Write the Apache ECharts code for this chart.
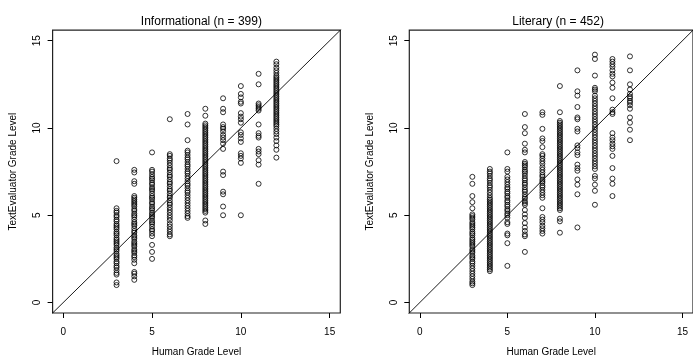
<!DOCTYPE html>
<html><head><meta charset="utf-8">
<script src="https://cdn.jsdelivr.net/npm/echarts@6/dist/echarts.min.js"></script>
<style>html,body{margin:0;padding:0;background:#fff}#c{width:693px;height:362px}</style>
</head><body><div id="c"></div>
<script>
// Human grade levels (x categories of the point columns)
const grades = [3, 4, 5, 6, 7, 8, 9, 10, 11, 12];
const tickValues = [0, 5, 10, 15];
const abline = [[-1, -1], [17, 17]];
const panelTitles = ['Informational (n = 399)', 'Literary (n = 452)'];
const xName = 'Human Grade Level';
const yName = 'TextEvaluator Grade Level';

// Informational: TextEvaluator grade level per human grade
const info3 = [8.1, 5.4, 5.25, 5.15, 5.0, 4.9, 4.75, 4.65, 4.5, 4.4, 4.3, 4.2, 4.05, 3.95, 3.85, 3.7, 3.6, 3.5, 3.4, 3.3, 3.15, 3.05, 2.95, 2.8, 2.7, 2.6, 2.5, 2.35, 2.25, 2.1, 2.0, 1.85, 1.7, 1.6, 1.15, 1.0];
const info4 = [7.6, 7.45, 6.95, 6.8, 6.1, 6.0, 5.9, 5.8, 5.7, 5.6, 5.5, 5.35, 5.25, 5.1, 5.0, 4.9, 4.75, 4.6, 4.5, 4.4, 4.25, 4.1, 4.0, 3.85, 3.75, 3.65, 3.5, 3.4, 3.3, 3.2, 3.05, 2.95, 2.85, 2.7, 2.6, 2.45, 2.25, 1.75, 1.65, 1.5, 1.3];
const info5 = [8.6, 7.6, 7.5, 7.35, 7.2, 7.1, 7.0, 6.85, 6.75, 6.6, 6.5, 6.4, 6.25, 6.1, 6.0, 5.9, 5.75, 5.65, 5.5, 5.4, 5.3, 5.15, 5.05, 4.95, 4.85, 4.7, 4.6, 4.5, 4.35, 4.2, 4.1, 3.95, 3.8, 3.3, 2.9, 2.5];
const info6 = [10.5, 8.5, 8.4, 8.25, 8.15, 8.0, 7.85, 7.7, 7.6, 7.45, 7.3, 7.2, 7.05, 6.9, 6.8, 6.65, 6.5, 6.4, 6.25, 6.1, 6.0, 5.85, 5.7, 5.6, 5.45, 5.3, 5.15, 5.0, 4.85, 4.7, 4.5, 4.35, 4.2, 4.05, 3.9, 3.8];
const info7 = [10.8, 10.2, 9.3, 8.7, 8.6, 8.45, 8.3, 8.2, 8.05, 7.9, 7.8, 7.65, 7.5, 7.4, 7.25, 7.1, 6.95, 6.8, 6.7, 6.55, 6.4, 6.3, 6.15, 6.0, 5.85, 5.7, 5.55, 5.4, 5.25, 5.1, 4.95, 4.85];
const info8 = [11.1, 10.7, 10.25, 10.15, 10.05, 9.95, 9.85, 9.75, 9.65, 9.55, 9.45, 9.35, 9.25, 9.15, 9.05, 8.95, 8.85, 8.75, 8.65, 8.55, 8.45, 8.35, 8.25, 8.15, 8.05, 7.95, 7.85, 7.75, 7.65, 7.55, 7.45, 7.35, 7.25, 7.15, 7.05, 6.95, 6.85, 6.75, 6.65, 6.55, 6.45, 6.35, 6.25, 6.15, 6.05, 5.95, 5.85, 5.75, 5.65, 5.55, 5.45, 5.35, 5.25, 5.15, 4.7, 4.5];
const info9 = [11.7, 11.1, 10.9, 10.2, 10.05, 9.95, 9.8, 9.6, 9.45, 9.3, 9.1, 8.8, 7.5, 7.3, 6.35, 6.2, 5.5, 5.0];
const info10 = [12.4, 11.95, 11.75, 11.5, 11.4, 10.85, 10.65, 10.5, 10.3, 9.75, 9.6, 9.4, 9.2, 8.55, 8.4, 8.25, 8.0, 5.0];
const info11 = [13.1, 12.5, 11.4, 11.3, 11.2, 11.1, 11.0, 10.2, 9.7, 9.55, 9.45, 8.8, 8.65, 8.5, 8.15, 7.9, 6.8];
const info12 = [13.8, 13.65, 13.45, 13.3, 13.15, 13.0, 12.9, 12.8, 12.7, 12.6, 12.5, 12.4, 12.3, 12.2, 12.1, 12.0, 11.9, 11.8, 11.7, 11.6, 11.5, 11.4, 11.3, 11.2, 11.1, 11.0, 10.9, 10.8, 10.7, 10.6, 10.5, 10.4, 10.3, 10.2, 10.1, 9.95, 9.8, 9.65, 9.45, 9.25, 9.0, 8.75, 8.3];

// Literary
const lit3 = [7.2, 6.8, 6.1, 5.75, 5.4, 5.05, 4.95, 4.85, 4.75, 4.6, 4.5, 4.4, 4.3, 4.2, 4.05, 3.95, 3.85, 3.7, 3.6, 3.5, 3.4, 3.3, 3.2, 3.05, 2.95, 2.85, 2.7, 2.6, 2.5, 2.35, 2.25, 2.1, 1.95, 1.8, 1.65, 1.5, 1.35, 1.2, 1.1, 1.0];
const lit4 = [7.65, 7.5, 7.4, 7.25, 7.1, 7.0, 6.85, 6.7, 6.6, 6.45, 6.3, 6.15, 6.0, 5.9, 5.8, 5.7, 5.6, 5.5, 5.4, 5.3, 5.2, 5.1, 5.0, 4.9, 4.8, 4.7, 4.6, 4.5, 4.4, 4.3, 4.2, 4.1, 4.0, 3.9, 3.8, 3.7, 3.6, 3.5, 3.4, 3.3, 3.2, 3.1, 3.0, 2.9, 2.8, 2.7, 2.6, 2.5, 2.4, 2.3, 2.2, 2.1, 2.0, 1.9, 1.8];
const lit5 = [8.6, 7.65, 7.5, 7.2, 7.05, 6.9, 6.75, 6.6, 6.5, 6.35, 6.25, 6.1, 6.0, 5.85, 5.75, 5.6, 5.5, 5.35, 5.25, 5.1, 5.0, 4.85, 4.6, 4.5, 3.95, 3.85, 3.4, 2.1];
const lit6 = [10.8, 10.05, 9.7, 9.1, 8.75, 8.6, 8.05, 7.95, 7.85, 7.75, 7.6, 7.5, 7.4, 7.25, 7.1, 7.0, 6.85, 6.75, 6.6, 6.45, 6.35, 6.2, 6.05, 5.95, 5.8, 5.7, 5.6, 5.3, 5.05, 4.85, 4.55, 4.3, 4.1, 3.9, 3.8, 2.9];
const lit7 = [10.9, 10.75, 9.95, 9.4, 9.25, 8.9, 8.5, 8.4, 8.25, 8.1, 7.95, 7.75, 7.6, 7.45, 7.3, 7.2, 7.05, 6.95, 6.85, 6.7, 6.6, 6.45, 6.3, 6.15, 6.0, 5.4, 4.9, 4.75, 4.6, 4.4, 4.25, 4.1, 3.95];
const lit8 = [12.4, 10.9, 10.4, 10.3, 10.2, 10.1, 10.0, 9.9, 9.8, 9.7, 9.6, 9.5, 9.4, 9.3, 9.2, 9.1, 9.0, 8.9, 8.8, 8.7, 8.6, 8.5, 8.4, 8.3, 8.2, 8.1, 8.0, 7.9, 7.8, 7.7, 7.6, 7.5, 7.4, 7.3, 7.2, 7.1, 7.0, 6.9, 6.8, 6.7, 6.6, 6.5, 6.4, 6.3, 6.2, 6.1, 6.0, 5.9, 5.8, 5.7, 5.6, 5.5, 5.4, 5.3, 4.8, 4.65, 4.0];
const lit9 = [13.3, 12.1, 11.85, 11.2, 10.6, 10.5, 9.95, 9.8, 9.0, 8.85, 8.6, 8.45, 7.9, 7.7, 7.55, 7.05, 6.75, 6.2, 4.3];
const lit10 = [14.2, 13.95, 13.0, 12.3, 12.2, 12.1, 11.85, 11.7, 11.55, 11.4, 11.25, 11.1, 10.95, 10.8, 10.65, 10.5, 10.35, 10.2, 10.05, 9.9, 9.75, 9.6, 9.45, 9.3, 9.15, 9.0, 8.85, 8.7, 8.55, 8.4, 8.25, 8.1, 7.95, 7.8, 7.65, 7.25, 7.1, 6.75, 6.4, 5.6];
const lit11 = [13.95, 13.8, 13.65, 13.5, 13.3, 13.1, 12.95, 12.6, 12.3, 11.7, 11.05, 10.9, 10.8, 9.7, 9.45, 9.3, 9.1, 8.95, 8.8, 8.4, 7.7, 7.1, 6.8, 6.1];
const lit12 = [14.1, 13.3, 12.5, 12.2, 11.95, 11.8, 11.7, 11.55, 11.45, 11.3, 11.1, 10.6, 10.3, 9.9, 9.3];

const infoCols = [info3, info4, info5, info6, info7, info8, info9, info10, info11, info12];
const litCols = [lit3, lit4, lit5, lit6, lit7, lit8, lit9, lit10, lit11, lit12];

function pairs(cols) {
  const out = [];
  cols.forEach((c, i) => c.forEach(v => out.push([grades[i], v])));
  return out;
}

const FONT = '"Liberation Sans", Arial, Helvetica, sans-serif';
const gridsPos = [
  { left: 52.6, top: 30.2, width: 287.7, height: 286.4 },
  { left: 409.3, top: 30.2, width: 287.7, height: 286.4 }
];

const chart = echarts.init(document.getElementById('c'), null, { renderer: 'canvas' });

const xAxes = [], yAxes = [], series = [], titles = [];
[infoCols, litCols].forEach((cols, k) => {
  xAxes.push({
    gridIndex: k, type: 'value', min: -0.6, max: 15.6, position: 'bottom',
    axisLine: { show: false, onZero: false }, splitLine: { show: false },
    axisTick: { show: true, inside: false, length: 5, customValues: tickValues, lineStyle: { color: '#000', width: 1 } },
    axisLabel: { customValues: tickValues, fontSize: 10, color: '#000', margin: 14, fontFamily: FONT },
    name: xName, nameLocation: 'middle', nameGap: 34,
    nameTextStyle: { fontSize: 10, color: '#000', fontFamily: FONT }
  });
  yAxes.push({
    gridIndex: k, type: 'value', min: -0.6, max: 15.6, position: 'left',
    axisLine: { show: false, onZero: false }, splitLine: { show: false },
    axisTick: { show: true, inside: false, length: 5, customValues: tickValues, lineStyle: { color: '#000', width: 1 } },
    axisLabel: { customValues: tickValues, fontSize: 10, color: '#000', margin: 10, rotate: 90, fontFamily: FONT },
    name: yName, nameLocation: 'middle', nameGap: 34,
    nameTextStyle: { fontSize: 10, color: '#000', fontFamily: FONT }
  });
  series.push({
    type: 'scatter', xAxisIndex: k, yAxisIndex: k,
    data: pairs(cols), symbol: 'circle', symbolSize: 5,
    itemStyle: { color: 'rgba(0,0,0,0)', borderColor: '#000', borderWidth: 1 },
    silent: true
  });
  series.push({
    type: 'line', xAxisIndex: k, yAxisIndex: k, data: abline,
    symbol: 'none', clip: true, silent: true,
    lineStyle: { color: '#000', width: 0.9 }
  });
  titles.push({
    text: panelTitles[k],
    left: gridsPos[k].left + 143.8, top: 11, textAlign: 'center',
    textStyle: { fontSize: 12, fontWeight: 'normal', color: '#000', fontFamily: FONT }
  });
});

chart.setOption({
  animation: false,
  backgroundColor: '#fff',
  title: titles,
  grid: gridsPos.map(g => Object.assign({ show: true, borderColor: '#222', borderWidth: 1.2, backgroundColor: 'transparent', containLabel: false }, g)),
  xAxis: xAxes,
  yAxis: yAxes,
  series: series
});
</script>
</body></html>
